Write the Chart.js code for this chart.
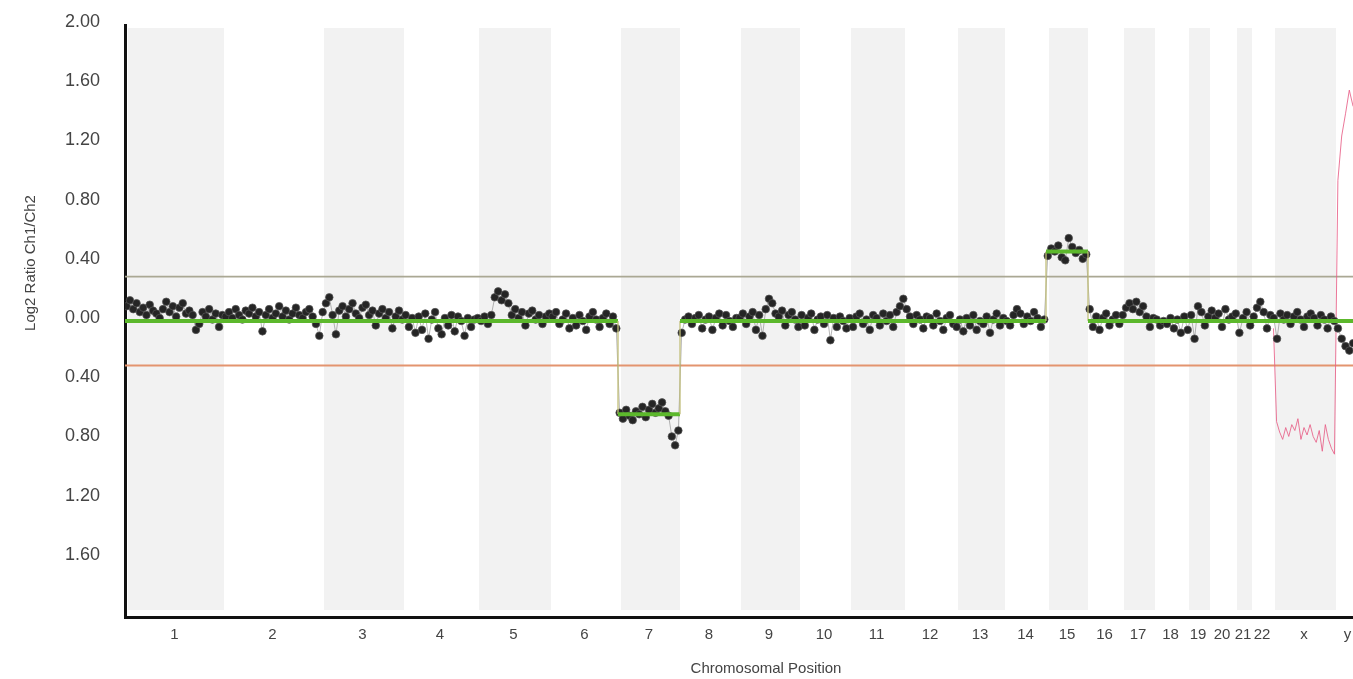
<!DOCTYPE html>
<html><head><meta charset="utf-8">
<script src="https://cdn.jsdelivr.net/npm/chart.js@4.4.1/dist/chart.umd.min.js"></script>
<style>html,body{margin:0;padding:0;background:#fff;overflow:hidden}canvas{display:block}</style>
</head><body>
<canvas id="c" width="1353" height="679"></canvas>
<script>
// ---- data ----
const chromLabels = ['1','2','3','4','5','6','7','8','9','10','11','12','13','14','15','16','17','18','19','20','21','22','x','y'];
const chromLengths = [247.5,242.5,207.5,180,187.5,167.5,155,145,155,120,142.5,125,125,102.5,105,82.5,85,77.5,60,60,45,50,160,57];
const xAxisMax = 3070;

const ratioChr1 = [0.10,0.14,0.08,0.12,0.06,0.09,0.04,0.11,0.07,0.05,0.02,0.08,0.13,0.06,0.10,0.03,0.09,0.12,0.05,0.07,0.04,-0.06,-0.02,0.06,0.03,0.08,0.01,0.05,-0.04,0.04];
const ratioChr2 = [0.03,0.06,0.02,0.08,0.04,0.01,0.07,0.05,0.09,0.03,0.06,-0.07,0.04,0.08,0.02,0.05,0.10,0.03,0.07,0.01,0.05,0.09,0.04,0.02,0.06,0.08,0.03,-0.02,-0.10];
const ratioChr3 = [0.06,0.12,0.16,0.04,-0.09,0.07,0.10,0.03,0.08,0.12,0.05,0.02,0.09,0.11,0.04,0.07,-0.03,0.05,0.08,0.02,0.06,-0.05,0.03,0.07,0.01];
const ratioChr4 = [0.04,-0.04,0.02,-0.08,0.03,-0.06,0.05,-0.12,0.01,0.06,-0.05,-0.09,0.02,-0.03,0.04,-0.07,0.03,0.00,-0.10,0.02,-0.04,0.01];
const ratioChr5 = [0.02,0.00,0.03,-0.02,0.04,0.16,0.20,0.14,0.18,0.12,0.04,0.08,0.02,0.06,-0.03,0.05,0.07,0.01,0.04,-0.02,0.03,0.05];
const ratioChr6 = [0.03,0.06,-0.02,0.01,0.05,-0.05,0.02,-0.03,0.04,0.00,-0.06,0.03,0.06,0.01,-0.04,0.02,0.05,-0.02,0.03,-0.05];
const ratioChr7 = [-0.62,-0.66,-0.60,-0.64,-0.67,-0.61,-0.63,-0.58,-0.65,-0.60,-0.56,-0.62,-0.59,-0.55,-0.61,-0.64,-0.78,-0.84,-0.74];
const ratioChr8 = [-0.08,0.01,0.03,-0.02,0.02,0.04,-0.05,0.01,0.03,-0.06,0.02,0.05,-0.03,0.04,0.00,-0.04,0.02];
const ratioChr9 = [0.02,0.05,-0.02,0.03,0.06,-0.06,0.04,-0.10,0.08,0.15,0.12,0.05,0.03,0.07,-0.03,0.04,0.06,0.01,-0.04];
const ratioChr10 = [0.04,-0.03,0.02,0.05,-0.06,0.01,0.03,-0.02,0.04,-0.13,0.02,-0.04,0.03,0.00,-0.05];
const ratioChr11 = [0.02,-0.04,0.03,0.05,-0.02,0.01,-0.06,0.04,0.02,-0.03,0.05,0.00,0.04,-0.04,0.06,0.10,0.15];
const ratioChr12 = [0.08,0.03,-0.02,0.04,0.01,-0.05,0.03,0.02,-0.03,0.05,0.00,-0.06,0.02,0.04,-0.02];
const ratioChr13 = [-0.04,0.01,-0.07,0.02,-0.03,0.04,-0.06,0.00,-0.02,0.03,-0.08,0.01,0.05,-0.03,0.02];
const ratioChr14 = [0.00,-0.03,0.04,0.08,0.05,-0.02,0.03,0.00,0.06,0.02,-0.04,0.01];
const ratioChr15 = [0.44,0.49,0.47,0.51,0.43,0.41,0.56,0.50,0.46,0.48,0.42,0.45];
const ratioChr16 = [0.08,-0.04,0.03,-0.06,0.02,0.05,-0.03,0.01,0.04,-0.02];
const ratioChr17 = [0.04,0.09,0.12,0.08,0.13,0.06,0.10,0.03,-0.04,0.02];
const ratioChr18 = [0.01,-0.03,0.00,-0.02,0.02,-0.05,0.01,-0.08,0.03];
const ratioChr19 = [-0.06,0.04,-0.12,0.10,0.06,-0.03,0.03];
const ratioChr20 = [0.07,0.02,0.05,-0.04,0.08,0.01,0.03];
const ratioChr21 = [0.05,-0.08,0.02,0.06,-0.03];
const ratioChr22 = [0.03,0.09,0.13,0.06,-0.05,0.04];
const ratioChrX = [0.02,-0.12,0.05,0.01,0.04,-0.02,0.03,0.06,0.01,-0.04,0.03,0.05,0.02,-0.03,0.04,0.01,-0.05,0.03,0.00];
const ratioChrY = [-0.05,-0.12,-0.17,-0.20,-0.15,-0.22];
const ratioByChrom = [ratioChr1,ratioChr2,ratioChr3,ratioChr4,ratioChr5,ratioChr6,ratioChr7,ratioChr8,ratioChr9,ratioChr10,ratioChr11,ratioChr12,ratioChr13,ratioChr14,ratioChr15,ratioChr16,ratioChr17,ratioChr18,ratioChr19,ratioChr20,ratioChr21,ratioChr22,ratioChrX,ratioChrY];

const sexRatioX = [-0.05,-0.68,-0.75,-0.80,-0.72,-0.78,-0.70,-0.74,-0.66,-0.80,-0.72,-0.77,-0.70,-0.78,-0.82,-0.74,-0.88,-0.70,-0.80,-0.86,-0.90];
const sexRatioY = [0.95,1.25,1.40,1.56,1.45,1.50];

const segmentFrom = ['1','7','8','15','16'];
const segmentTo = ['6','7','14','15','y'];
const segmentMeans = [0,-0.63,0,0.47,0];

const gainThreshold = 0.3;
const lossThreshold = -0.3;
const yMin = -2, yMax = 2, yStep = 0.4;

// ---- derived ----
const chromStart = [];
let acc = 0;
chromLengths.forEach(l => { chromStart.push(acc); acc += l; });
const chromEnd = chromStart.map((s,i)=> s + chromLengths[i]);
const chromCenter = chromStart.map((s,i)=> s + chromLengths[i]/2);

function spread(ci, vals){
  const s = chromStart[ci], L = chromLengths[ci], n = vals.length;
  return vals.map((v,i)=>({x: s + (i+0.5)*L/n, y: v}));
}
const probePoints = [];
ratioByChrom.forEach((vals,ci)=> probePoints.push(...spread(ci, vals)));
const sexPoints = [...spread(22, sexRatioX), ...spread(23, sexRatioY)];

const segPoints = [];
segmentMeans.forEach((m,k)=>{
  const a = chromStart[chromLabels.indexOf(segmentFrom[k])];
  const b = chromEnd[chromLabels.indexOf(segmentTo[k])];
  segPoints.push({x:a,y:m},{x:b,y:m});
});

const FONT = "'Liberation Sans', Arial, Helvetica, sans-serif";

const bandsPlugin = {
  id:'bands',
  beforeDatasetsDraw(chart){
    const {ctx, chartArea, scales:{x}} = chart;
    ctx.save();
    ctx.beginPath();
    ctx.rect(chartArea.left, chartArea.top, chartArea.right-chartArea.left, chartArea.bottom-chartArea.top);
    ctx.clip();
    ctx.fillStyle = '#f2f2f2';
    chromStart.forEach((s,i)=>{
      if (i % 2 !== 0) return;
      const a = x.getPixelForValue(s), b = x.getPixelForValue(chromEnd[i]);
      ctx.fillRect(a+3, chartArea.top+3, b-a-3, chartArea.bottom-chartArea.top-10);
    });
    ctx.restore();
  }
};
const titlesPlugin = {
  id:'titles',
  afterDraw(chart){
    const {ctx, chartArea} = chart;
    ctx.save();
    ctx.fillStyle = '#444';
    ctx.font = '15px ' + FONT;
    ctx.textAlign = 'center';
    ctx.textBaseline = 'middle';
    ctx.fillText('Chromosomal Position', (chartArea.left+chartArea.right)/2 + 27, 669);
    ctx.translate(31, 263);
    ctx.rotate(-Math.PI/2);
    ctx.fillText('Log2 Ratio Ch1/Ch2', 0, 0);
    ctx.restore();
  }
};

new Chart(document.getElementById('c'), {
  type:'line',
  data:{
    datasets:[
      { label:'segments', data:segPoints, order:0, pointRadius:0, tension:0,
        borderColor:'#5cb82c', borderWidth:4,
        segment:{
          borderColor: c => c.p0.parsed.y === c.p1.parsed.y ? '#5cb82c' : '#c2bf7a',
          borderWidth: c => c.p0.parsed.y === c.p1.parsed.y ? 4 : 1.3
        } },
      { label:'probes', data:probePoints, order:1, tension:0, showLine:true,
        borderColor:'rgba(90,90,90,0.55)', borderWidth:0.8,
        pointRadius:3.8, pointBackgroundColor:'#252525', pointBorderColor:'rgba(85,85,85,0.9)', pointBorderWidth:0.8 },
      { label:'sex', data:sexPoints, order:2, tension:0, pointRadius:0,
        borderColor:'rgba(232,95,135,0.85)', borderWidth:1 },
      { label:'gain', data:[{x:0,y:gainThreshold},{x:xAxisMax,y:gainThreshold}], order:3, pointRadius:0,
        borderColor:'#aaa894', borderWidth:1.6 },
      { label:'loss', data:[{x:0,y:lossThreshold},{x:xAxisMax,y:lossThreshold}], order:3, pointRadius:0,
        borderColor:'#e3946f', borderWidth:2 }
    ]
  },
  options:{
    responsive:false, animation:false, devicePixelRatio:1,
    layout:{autoPadding:false, padding:{top:25,right:0,left:0,bottom:0}},
    plugins:{legend:{display:false}, tooltip:{enabled:false}},
    scales:{
      x:{ type:'linear', min:0, max:xAxisMax,
        grid:{display:false, drawTicks:false},
        border:{display:true, color:'#111', width:3},
        afterBuildTicks: s => { s.ticks = chromCenter.map(v=>({value:v})); },
        afterFit: s => { s.height = 62; s.paddingLeft = 0; s.paddingRight = 0; },
        ticks:{ autoSkip:false, maxRotation:0, minRotation:0, padding:9, color:'#444',
          font:{family:FONT, size:15},
          callback:(v,i)=>chromLabels[i] } },
      y:{ type:'linear', min:yMin, max:yMax,
        grid:{display:false, drawTicks:false},
        border:{display:true, color:'#111', width:3},
        afterFit: s => { s.width = 125; s.paddingTop = 0; s.paddingBottom = 0; },
        ticks:{ stepSize:yStep, padding:25, color:'#444', labelOffset:-3,
          font:{family:FONT, size:18},
          callback: v => v < yMin + 0.01 ? '' : Math.abs(v).toFixed(2) } }
    }
  },
  plugins:[bandsPlugin, titlesPlugin]
});
</script>
</body></html>
